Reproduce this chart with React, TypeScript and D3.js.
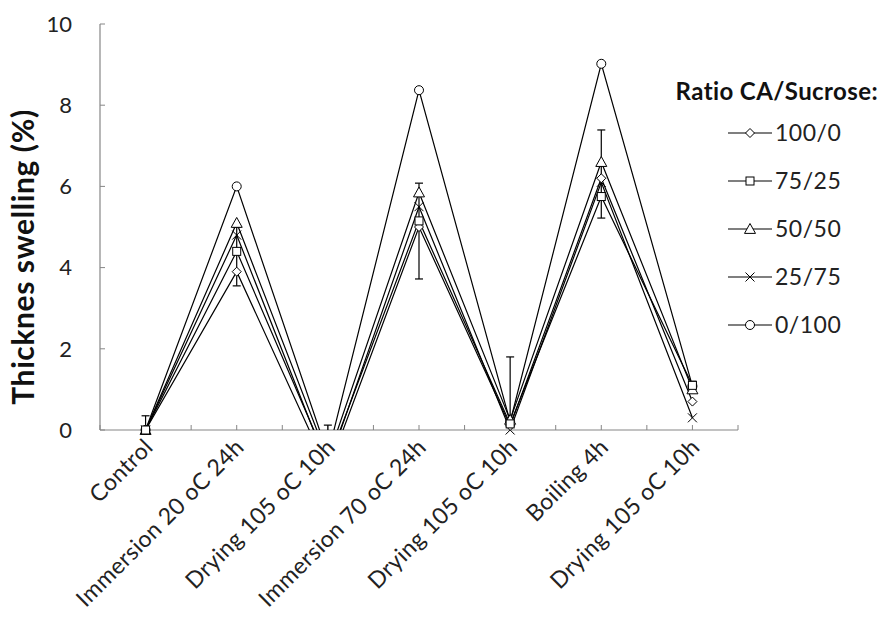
import React from "react";
import * as d3 from "d3";

const categories = [
  "Control",
  "Immersion 20 oC 24h",
  "Drying 105 oC 10h",
  "Immersion 70 oC 24h",
  "Drying 105 oC 10h ",
  "Boiling 4h",
  "Drying 105 oC 10h  ",
];

const seriesNames = ["100/0", "75/25", "50/50", "25/75", "0/100"];
const markerTypes = ["diamond", "square", "triangle", "cross", "circle"];

const s100_0 = [0, 3.9, -1.0, 5.0, 0.1, 6.2, 0.7];
const s75_25 = [0, 4.4, -0.8, 5.15, 0.15, 5.75, 1.1];
const s50_50 = [0, 5.1, -0.7, 5.85, 0.25, 6.6, 1.0];
const s25_75 = [0, 4.8, -0.9, 5.5, 0.0, 6.1, 0.3];
const s0_100 = [0, 6.0, -0.6, 8.37, 0.2, 9.02, 1.08];
const seriesValues = [s100_0, s75_25, s50_50, s25_75, s0_100];

const errLow = [-0.35, 3.55, -1.0, 3.72, -1.4, 5.22, 0.95];
const errHigh = [0.35, 5.0, 0.12, 6.08, 1.8, 7.39, 1.2];

const yTicks = [0, 2, 4, 6, 8, 10];

const FONT = "Lato, 'Open Sans', sans-serif";

function Marker({ type, x, y }: { type: string; x: number; y: number }) {
  const st = { fill: "#fff", stroke: "#000", strokeWidth: 1 };
  if (type === "diamond") {
    const r = 4.5;
    return <path d={`M${x},${y - r}L${x + r},${y}L${x},${y + r}L${x - r},${y}Z`} {...st} />;
  }
  if (type === "square") {
    const r = 4;
    return <rect x={x - r} y={y - r} width={2 * r} height={2 * r} {...st} />;
  }
  if (type === "triangle") {
    const r = 5.5;
    return <path d={`M${x},${y - r}L${x + r},${y + r * 0.8}L${x - r},${y + r * 0.8}Z`} {...st} />;
  }
  if (type === "cross") {
    const r = 4.5;
    return (
      <path
        d={`M${x - r},${y - r}L${x + r},${y + r}M${x - r},${y + r}L${x + r},${y - r}`}
        fill="none"
        stroke="#000"
        strokeWidth={1}
      />
    );
  }
  return <circle cx={x} cy={y} r={4.5} {...st} />;
}

export default function App() {
  const W = 880;
  const H = 626;
  const left = 100;
  const right = 738;
  const top = 24;
  const bottom = 430;

  const x = d3.scalePoint<string>().domain(categories).range([left, right]).padding(0.5);
  const y = d3.scaleLinear().domain([0, 10]).range([bottom, top]);
  const step = x.step();

  const line = d3
    .line<number>()
    .x((_, i) => x(categories[i]) as number)
    .y((d) => y(d));

  const halfTicks = d3.range(0, categories.length * 2 + 1).map((k) => left + (k * step) / 2);

  const axisColor = "#868686";
  const order = [4, 3, 2, 0, 1];

  return (
    <svg width={W} height={H} style={{ position: "absolute", left: 0, top: 0, background: "#fff" }}>
      <defs>
        <clipPath id="plotClip">
          <rect x={left} y={0} width={right - left + 10} height={bottom} />
        </clipPath>
      </defs>

      {/* axes */}
      <line x1={left} x2={left} y1={top} y2={bottom} stroke={axisColor} strokeWidth={1.2} />
      <line x1={left} x2={right} y1={bottom} y2={bottom} stroke={axisColor} strokeWidth={1.2} />
      {yTicks.map((t) => (
        <g key={t}>
          <line x1={left} x2={left + 5} y1={y(t)} y2={y(t)} stroke={axisColor} strokeWidth={1} />
          <text
            x={left - 28}
            y={y(t)}
            dy="0.35em"
            textAnchor="end"
            fontFamily={FONT}
            fontSize={22}
            fill="#222"
          >
            {t}
          </text>
        </g>
      ))}
      {halfTicks.map((tx, i) => (
        <line key={i} x1={tx} x2={tx} y1={bottom} y2={bottom - 5} stroke={axisColor} strokeWidth={1} />
      ))}

      {/* x labels */}
      {categories.map((c) => {
        const cx = (x(c) as number) + 3;
        const cy = bottom + 13;
        return (
          <text
            key={c}
            x={cx}
            y={cy}
            dy="0.35em"
            textAnchor="end"
            transform={`rotate(-45 ${cx} ${cy})`}
            fontFamily={FONT}
            fontSize={23}
            letterSpacing={0.4}
            fill="#222"
          >
            {c.trim()}
          </text>
        );
      })}

      {/* y axis title */}
      <text
        transform={`translate(34 257) rotate(-90)`}
        textAnchor="middle"
        fontFamily={FONT}
        fontWeight="bold"
        fontSize={30}
        letterSpacing={0.6}
        fill="#111"
      >
        Thicknes swelling (%)
      </text>

      {/* lines */}
      <g clipPath="url(#plotClip)">
        {seriesValues.map((vals, si) => (
          <path key={si} d={line(vals) || ""} fill="none" stroke="#000" strokeWidth={1.2} />
        ))}
        {/* error bars */}
        {categories.map((c, i) => {
          const cx = x(c) as number;
          return (
            <g key={c} stroke="#000" strokeWidth={1.2}>
              <line x1={cx} x2={cx} y1={y(errLow[i])} y2={y(errHigh[i])} />
              <line x1={cx - 4} x2={cx + 4} y1={y(errLow[i])} y2={y(errLow[i])} />
              <line x1={cx - 4} x2={cx + 4} y1={y(errHigh[i])} y2={y(errHigh[i])} />
            </g>
          );
        })}
      </g>

      {/* markers */}
      {order.map((si) =>
        seriesValues[si].map((v, i) =>
          v >= 0 ? (
            <Marker key={`${si}-${i}`} type={markerTypes[si]} x={x(categories[i]) as number} y={y(v)} />
          ) : null
        )
      )}

      {/* legend */}
      <text
        x={878}
        y={92}
        dy="0.35em"
        textAnchor="end"
        fontFamily={FONT}
        fontWeight="bold"
        fontSize={24}
        letterSpacing={0.4}
        fill="#111"
      >
        Ratio CA/Sucrose:
      </text>
      {seriesNames.map((n, i) => {
        const ly = 133 + i * 48;
        return (
          <g key={n}>
            <line x1={728} x2={772} y1={ly} y2={ly} stroke="#000" strokeWidth={1.2} />
            <Marker type={markerTypes[i]} x={750} y={ly} />
            <text x={775} y={ly} dy="0.35em" fontFamily={FONT} fontSize={23} letterSpacing={0.5} fill="#222">
              {n}
            </text>
          </g>
        );
      })}
    </svg>
  );
}
